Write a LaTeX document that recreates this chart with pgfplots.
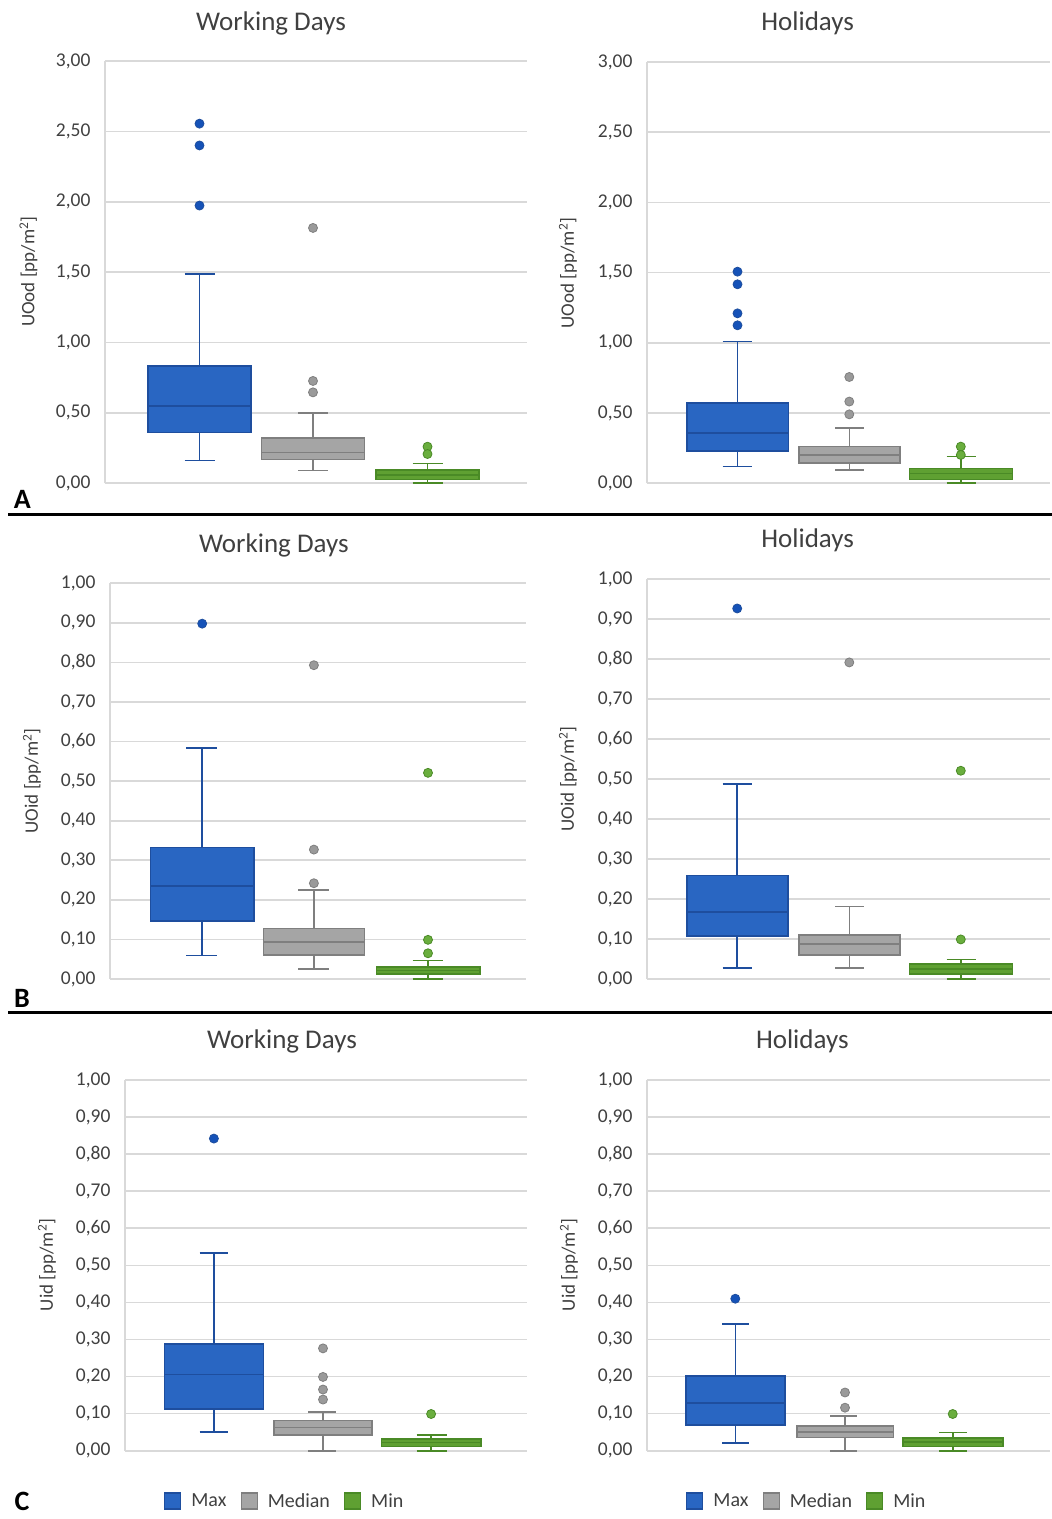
\documentclass[border=0pt]{standalone}
\usepackage{fontspec}
\setmainfont{Carlito}
\usepackage{pgfplots}
\pgfplotsset{compat=1.18}
\definecolor{bluef}{HTML}{2966C2}
\definecolor{bluedk}{HTML}{1E4E9E}
\definecolor{blueo}{HTML}{1552B8}
\definecolor{grayf}{HTML}{A5A5A5}
\definecolor{graydk}{HTML}{7F7F7F}
\definecolor{grayo}{HTML}{9A9A9A}
\definecolor{greenf}{HTML}{5FA032}
\definecolor{greendk}{HTML}{4A8A26}
\definecolor{greeno}{HTML}{6AAE3E}
\definecolor{gridc}{HTML}{D9D9D9}
\definecolor{txtc}{HTML}{404040}
\pgfplotsset{
  panel/.style={scale only axis, clip=false, anchor=south west,
    axis x line=none, axis y line*=left,
    y axis line style={draw=gridc, line width=1.6pt},
    ymajorgrids, grid style={draw=gridc, line width=1.6pt},
    ytick style={draw=none}, xtick=\empty, ymin=0,
    yticklabel style={font=\fontsize{19.5}{21}\selectfont, text=txtc, xshift=-11pt,
      /pgf/number format/fixed, /pgf/number format/fixed zerofill,
      /pgf/number format/precision=2, /pgf/number format/use comma,
      /pgf/number format/assume math mode=true}},
  bluebox/.style={draw=bluedk, fill=bluef, line width=1.6pt, line cap=rect, mark=none},
  blueline/.style={draw=bluedk, line width=1.6pt, mark=none},
  blueout/.style={only marks, mark=*, mark size=4.5pt, mark options={fill=blueo, draw=bluedk, line width=0.8pt}},
  graybox/.style={draw=graydk, fill=grayf, line width=1.6pt, line cap=rect, mark=none},
  grayline/.style={draw=graydk, line width=1.6pt, mark=none},
  grayout/.style={only marks, mark=*, mark size=4.5pt, mark options={fill=grayo, draw=graydk, line width=0.8pt}},
  greenbox/.style={draw=greendk, fill=greenf, line width=1.6pt, line cap=rect, mark=none},
  greenline/.style={draw=greendk, line width=1.6pt, mark=none},
  greenout/.style={only marks, mark=*, mark size=4.5pt, mark options={fill=greeno, draw=greendk, line width=0.8pt}},
  legsty/.style={legend style={draw=none, fill=none, legend columns=3, inner sep=0pt,
    font=\fontsize{20}{22}\selectfont, text=txtc,
    /tikz/every odd column/.append style={column sep=8pt},
    /tikz/every even column/.append style={column sep=12pt}}}
}
% box: #1 colour, #2 left x, #3 centre x, #4 right x, #5 lower whisker, #6 lower quartile, #7 median, #8 upper quartile, #9 upper whisker
\newcommand{\BX}[9]{%
  \addplot[#1box] coordinates {(#2,#6) (#4,#6) (#4,#8) (#2,#8) (#2,#6)};
  \addplot[#1line] coordinates {(#2,#7) (#4,#7)};
  \addplot[#1line] coordinates {(#3,#8) (#3,#9)};
  \addplot[#1line] coordinates {(#3,#6) (#3,#5)};}
% caps: #1 colour, #2 left x, #3 right x, #4 lower whisker, #5 upper whisker
\newcommand{\CP}[5]{%
  \addplot[#1line] coordinates {(#2,#4) (#3,#4)};
  \addplot[#1line] coordinates {(#2,#5) (#3,#5)};}
\newcommand{\LEG}{%
  \addlegendimage{legend image code/.code={\draw[draw=bluedk,fill=bluef,line width=1.2pt] (0pt,-8pt) rectangle (16pt,8pt);}}
  \addlegendentry{Max}
  \addlegendimage{legend image code/.code={\draw[draw=graydk,fill=grayf,line width=1.2pt] (0pt,-8pt) rectangle (16pt,8pt);}}
  \addlegendentry{Median}
  \addlegendimage{legend image code/.code={\draw[draw=greendk,fill=greenf,line width=1.2pt] (0pt,-8pt) rectangle (16pt,8pt);}}
  \addlegendentry{Min}}
\begin{document}
\begin{tikzpicture}[x=1pt,y=1pt]
\path[use as bounding box] (0,0) rectangle (1052,1519);
% ---------------- A left: UOod, working days
\begin{axis}[panel, at={(105pt,1035.7pt)}, width=422pt, height=422.3pt,
  xmin=105, xmax=527, ymax=3, ytick={0,0.5,1,1.5,2,2.5,3}]
\BX{blue}{148}{199.5}{251}{0.163}{0.360}{0.550}{0.835}{1.487}
\CP{blue}{184.5}{214.5}{0.163}{1.487}
\addplot[blueout] coordinates {(199.5,2.555) (199.5,2.40) (199.5,1.973)};
\BX{gray}{261.5}{313}{364.5}{0.092}{0.168}{0.220}{0.322}{0.50}
\CP{gray}{298}{328}{0.092}{0.50}
\addplot[grayout] coordinates {(313,1.814) (313,0.727) (313,0.646)};
\BX{green}{376}{427.5}{479}{0.0}{0.026}{0.060}{0.095}{0.142}
\CP{green}{412.5}{442.5}{0.0}{0.142}
\addplot[greenout] coordinates {(427.5,0.260) (427.5,0.208)};
\end{axis}
% ---------------- A right: UOod, holidays
\begin{axis}[panel, at={(647pt,1035.7pt)}, width=403pt, height=421.3pt,
  xmin=647, xmax=1050, ymax=3, ytick={0,0.5,1,1.5,2,2.5,3}]
\BX{blue}{686.7}{737.5}{788.3}{0.119}{0.230}{0.358}{0.570}{1.009}
\CP{blue}{722.7}{752.3}{0.119}{1.009}
\addplot[blueout] coordinates {(737.5,1.507) (737.5,1.417) (737.5,1.210) (737.5,1.125)};
\BX{gray}{798.7}{849.3}{900}{0.093}{0.145}{0.202}{0.261}{0.392}
\CP{gray}{835}{864.3}{0.093}{0.392}
\addplot[grayout] coordinates {(849.3,0.757) (849.3,0.582) (849.3,0.491)};
\BX{green}{909.3}{960.8}{1012.3}{0.0}{0.028}{0.070}{0.104}{0.190}
\CP{green}{946.7}{976}{0.0}{0.190}
\addplot[greenout] coordinates {(960.8,0.261) (960.8,0.202)};
\end{axis}
% ---------------- B left: UOid, working days
\begin{axis}[panel, at={(110pt,540pt)}, width=416pt, height=395.7pt,
  xmin=110, xmax=526, ymax=1, ytick={0,0.1,0.2,0.3,0.4,0.5,0.6,0.7,0.8,0.9,1.0}]
\BX{blue}{150.5}{202.2}{253.8}{0.059}{0.147}{0.235}{0.332}{0.584}
\CP{blue}{186.3}{217}{0.059}{0.584}
\addplot[blueout] coordinates {(202.2,0.898)};
\BX{gray}{263.4}{313.9}{364.3}{0.025}{0.061}{0.094}{0.128}{0.225}
\CP{gray}{298.2}{328.9}{0.025}{0.225}
\addplot[grayout] coordinates {(313.9,0.793) (313.9,0.327) (313.9,0.242)};
\BX{green}{376.4}{428}{479.7}{0.0}{0.012}{0.021}{0.031}{0.047}
\CP{green}{412.5}{442.8}{0.0}{0.047}
\addplot[greenout] coordinates {(428,0.521) (428,0.099) (428,0.065)};
\end{axis}
% ---------------- B right: UOid, holidays
\begin{axis}[panel, at={(647pt,540pt)}, width=403pt, height=399.7pt,
  xmin=647, xmax=1050, ymax=1, ytick={0,0.1,0.2,0.3,0.4,0.5,0.6,0.7,0.8,0.9,1.0}]
\BX{blue}{686.7}{737.2}{787.7}{0.028}{0.107}{0.168}{0.259}{0.488}
\CP{blue}{722.7}{752.3}{0.028}{0.488}
\addplot[blueout] coordinates {(737.2,0.927)};
\BX{gray}{798.7}{849.3}{900}{0.028}{0.060}{0.088}{0.110}{0.181}
\CP{gray}{835}{864.3}{0.028}{0.181}
\addplot[grayout] coordinates {(849.3,0.792)};
\BX{green}{909.3}{960.8}{1012.3}{0.0}{0.013}{0.025}{0.037}{0.049}
\CP{green}{946.7}{976}{0.0}{0.049}
\addplot[greenout] coordinates {(960.8,0.521) (960.8,0.099)};
\end{axis}
% ---------------- C left: Uid, working days
\begin{axis}[panel, legsty, at={(125pt,68.3pt)}, width=402pt, height=370.7pt,
  xmin=125, xmax=527, ymax=1, ytick={0,0.1,0.2,0.3,0.4,0.5,0.6,0.7,0.8,0.9,1.0},
  legend style={at={(axis description cs:0.097,-0.1357)}, anchor=west}]
\LEG
\BX{blue}{164.3}{213.9}{263.4}{0.050}{0.112}{0.206}{0.288}{0.533}
\CP{blue}{199.7}{228}{0.050}{0.533}
\addplot[blueout] coordinates {(213.9,0.842)};
\BX{gray}{274.1}{323}{371.9}{0.0}{0.043}{0.063}{0.081}{0.104}
\CP{gray}{308.2}{336.4}{0.0}{0.104}
\addplot[grayout] coordinates {(323,0.276) (323,0.199) (323,0.165) (323,0.138)};
\BX{green}{381.5}{431.1}{480.7}{0.0}{0.011}{0.022}{0.031}{0.042}
\CP{green}{416.7}{446.6}{0.0}{0.042}
\addplot[greenout] coordinates {(431.1,0.099)};
\end{axis}
% ---------------- C right: Uid, holidays
\begin{axis}[panel, legsty, at={(647pt,68.3pt)}, width=403pt, height=370.7pt,
  xmin=647, xmax=1050, ymax=1, ytick={0,0.1,0.2,0.3,0.4,0.5,0.6,0.7,0.8,0.9,1.0},
  legend style={at={(axis description cs:0.097,-0.1357)}, anchor=west}]
\LEG
\BX{blue}{685.7}{735.3}{785}{0.021}{0.070}{0.128}{0.201}{0.341}
\CP{blue}{722.3}{749}{0.021}{0.341}
\addplot[blueout] coordinates {(735.3,0.410)};
\BX{gray}{796.7}{845}{893.3}{0.0}{0.036}{0.050}{0.067}{0.094}
\CP{gray}{830}{857.3}{0.0}{0.094}
\addplot[grayout] coordinates {(845,0.157) (845,0.116)};
\BX{green}{902.7}{952.7}{1002.7}{0.0}{0.011}{0.023}{0.035}{0.049}
\CP{green}{939.3}{967.3}{0.0}{0.049}
\addplot[greenout] coordinates {(952.7,0.099)};
\end{axis}
% ---------------- titles, labels, separators
\begin{scope}[every node/.style={text=txtc}]
\node[font=\fontsize{27}{30}\selectfont] at (271,1495.7) {Working Days};
\node[font=\fontsize{27}{30}\selectfont] at (807.7,1495.7) {Holidays};
\node[font=\fontsize{27}{30}\selectfont] at (273.8,974) {Working Days};
\node[font=\fontsize{27}{30}\selectfont] at (807.7,978.3) {Holidays};
\node[font=\fontsize{27}{30}\selectfont] at (282,477.3) {Working Days};
\node[font=\fontsize{27}{30}\selectfont] at (802.3,477.3) {Holidays};
\node[font=\fontsize{19}{21}\selectfont, rotate=90] at (28.5,1247.3) {UOod [pp/m\textsuperscript{2}]};
\node[font=\fontsize{19}{21}\selectfont, rotate=90] at (568,1246) {UOod [pp/m\textsuperscript{2}]};
\node[font=\fontsize{19}{21}\selectfont, rotate=90] at (32,738) {UOid [pp/m\textsuperscript{2}]};
\node[font=\fontsize{19}{21}\selectfont, rotate=90] at (568,740) {UOid [pp/m\textsuperscript{2}]};
\node[font=\fontsize{19}{21}\selectfont, rotate=90] at (47,254) {Uid [pp/m\textsuperscript{2}]};
\node[font=\fontsize{19}{21}\selectfont, rotate=90] at (569,254) {Uid [pp/m\textsuperscript{2}]};
\end{scope}
\node[font=\fontsize{28}{30}\selectfont\bfseries] at (22.4,1020) {A};
\node[font=\fontsize{28}{30}\selectfont\bfseries] at (22,520.7) {B};
\node[font=\fontsize{28}{30}\selectfont\bfseries] at (22,18) {C};
\draw[line width=3pt] (8,1004) -- (1052,1004);
\draw[line width=3pt] (8,506.3) -- (1052,506.3);
\end{tikzpicture}
\end{document}
